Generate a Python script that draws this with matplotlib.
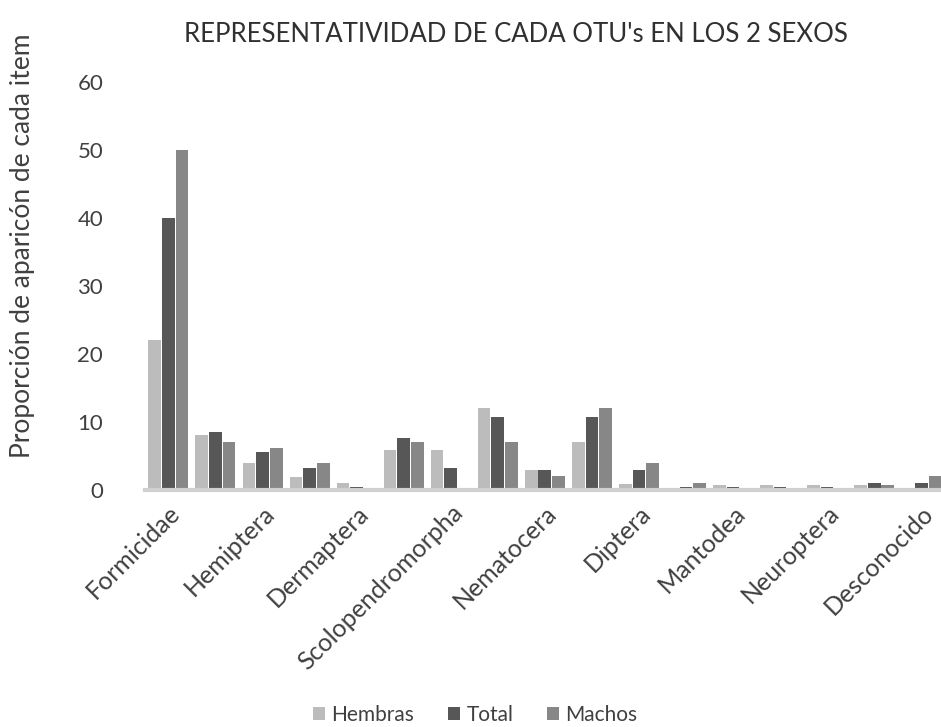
import numpy as np
import matplotlib.pyplot as plt

# categories (only every other one is labelled in the original chart)
categories = ["Formicidae", "", "Hemiptera", "", "Dermaptera", "",
              "Scolopendromorpha", "", "Nematocera", "", "Diptera", "",
              "Mantodea", "", "Neuroptera", "", "Desconocido"]
hembras = [22, 8.1, 3.9, 1.9, 1.1, 5.9, 5.9, 12.0, 3.0, 7.0, 0.9, 0, 0.8, 0.8, 0.8, 0.8, 0]
total = [40, 8.5, 5.6, 3.2, 0.5, 7.6, 3.2, 10.8, 3.0, 10.8, 2.9, 0.4, 0.5, 0.5, 0.5, 1.1, 1.1]
machos = [50, 7.1, 6.2, 3.9, 0, 7.1, 0, 7.0, 2.0, 12.1, 3.9, 1.1, 0, 0, 0, 0.8, 2.0]

plt.rcParams['font.family'] = ['Lato', 'DejaVu Sans']

fig = plt.figure(figsize=(9.41, 7.27), dpi=100)
ax = fig.add_axes([0.154, 0.326, 0.85, 0.561])

x = np.arange(len(categories))
w = 0.27
ax.bar(x - 0.29, hembras, w, color='#bcbcbc', label='Hembras')
ax.bar(x, total, w, color='#575757', label='Total')
ax.bar(x + 0.29, machos, w, color='#878787', label='Machos')

ax.set_xlim(-0.5, len(categories) - 0.5)
ax.set_ylim(0, 60)
ax.set_yticks(range(0, 61, 10))
ax.tick_params(axis='y', length=0, labelsize=16, labelcolor='#404040', pad=30)
ax.set_xticks(x)
ax.set_xticklabels(categories, rotation=45, ha='right', rotation_mode='anchor',
                   fontsize=18, color='#404040')
ax.tick_params(axis='x', length=0, pad=8)

for s in ['top', 'right', 'left']:
    ax.spines[s].set_visible(False)
ax.spines['bottom'].set_color('#d0d0d0')
ax.spines['bottom'].set_linewidth(3)

ax.set_ylabel('Proporción de aparicón de cada item', fontsize=19, color='#404040')
ax.yaxis.set_label_coords(-0.138, 0.60)
fig.text(0.548, 0.952, "REPRESENTATIVIDAD DE CADA OTU's EN LOS 2 SEXOS",
         ha='center', va='center', fontsize=18.5, color='#303030')

fig.legend(loc='center', bbox_to_anchor=(0.505, 0.017), ncol=3, frameon=False,
           fontsize=15, handlelength=0.6, handleheight=0.6, handletextpad=0.3,
           columnspacing=1.6, labelcolor='#404040')

fig.savefig('out.png', dpi=100)
